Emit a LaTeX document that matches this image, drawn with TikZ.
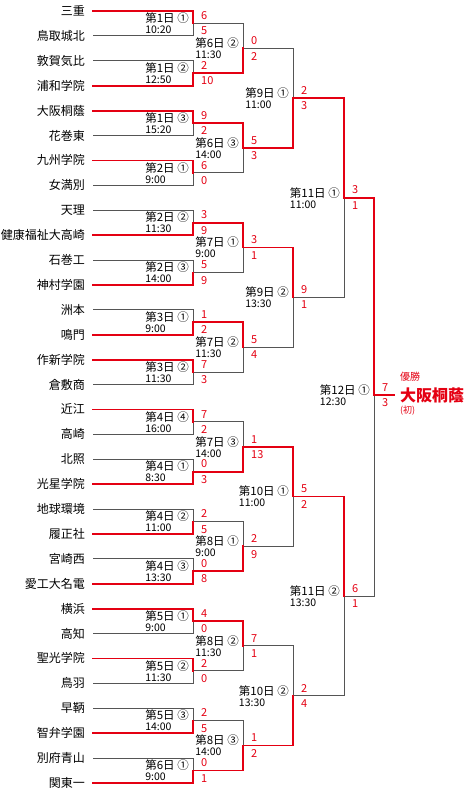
\documentclass[tikz,border=0pt]{standalone}
\usepackage{fontspec}
\setmainfont{Noto Sans CJK JP}
\usetikzlibrary{positioning}
\definecolor{winred}{RGB}{228,0,18}
\definecolor{losegray}{RGB}{85,85,85}

\begin{document}
\begin{tikzpicture}[
    x=1pt, y=-1pt,
    team/.style={anchor=east, inner sep=0pt, font=\fontsize{12}{12}\selectfont},
    match/.style={anchor=east, align=left, inner sep=0pt, font=\fontsize{11.5}{11}\selectfont},
    score/.style={inner sep=0pt, text=winred, font=\fontsize{11}{11}\selectfont},
    win/.style={draw=winred, line width=1.8pt, line cap=rect},
    lose/.style={draw=losegray, line width=1pt}
]
\useasboundingbox (0,0) rectangle (474,798);

% Teams
\foreach \name [count=\i from 0] in {三重,鳥取城北,敦賀気比,浦和学院,大阪桐蔭,花巻東,九州学院,女満別,
    天理,健康福祉大高崎,石巻工,神村学園,洲本,鳴門,作新学院,倉敷商,
    近江,高崎,北照,光星学院,地球環境,履正社,宮崎西,愛工大名電,
    横浜,高知,聖光学院,鳥羽,早鞆,智弁学園,別府青山,関東一} {
  \node[team] (t\i) at (85, 11+24.9*\i) {\name};
  \coordinate (s\i) at ([xshift=8pt]t\i.east);
}

% Game points
\foreach \j in {0,...,15} \coordinate (r1-\j) at (193, 23.45+49.8*\j);
\foreach \j in {0,...,7} \coordinate (r2-\j) at (243, 48.35+99.6*\j);
\foreach \j in {0,...,3} \coordinate (r3-\j) at (293, 98.15+199.2*\j);
\foreach \j in {0,1} \coordinate (r4-\j) at (344, 197.75+398.4*\j);
\coordinate (r5-0) at (374, 395);
\coordinate (end) at (394, 395);

% Losers
\foreach \a/\b in {s1/r1-0, s2/r1-1, s5/r1-2, s7/r1-3, s8/r1-4, s10/r1-5, s12/r1-6, s15/r1-7,
    s17/r1-8, s18/r1-9, s20/r1-10, s22/r1-11, s25/r1-12, s27/r1-13, s28/r1-14, s30/r1-15,
    r1-0/r2-0, r1-3/r2-1, r1-5/r2-2, r1-7/r2-3, r1-8/r2-4, r1-10/r2-5, r1-13/r2-6, r1-14/r2-7,
    r2-0/r3-0, r2-3/r3-1, r2-5/r3-2, r2-6/r3-3,
    r3-1/r4-0, r3-3/r4-1, r4-1/r5-0}
  \draw[lose] (\a) -| (\b);

% Winners
\foreach \a/\b in {s0/r1-0, s3/r1-1, s4/r1-2, s6/r1-3, s9/r1-4, s11/r1-5, s13/r1-6, s14/r1-7,
    s16/r1-8, s19/r1-9, s21/r1-10, s23/r1-11, s24/r1-12, s26/r1-13, s29/r1-14, s31/r1-15,
    r1-1/r2-0, r1-2/r2-1, r1-4/r2-2, r1-6/r2-3, r1-9/r2-4, r1-11/r2-5, r1-12/r2-6, r1-15/r2-7,
    r2-1/r3-0, r2-2/r3-1, r2-4/r3-2, r2-7/r3-3,
    r3-0/r4-0, r3-2/r4-1, r4-0/r5-0}
  \draw[win] (\a) -| (\b);
\draw[win] (r5-0) -- (end);

% Day, time and scores
\foreach \g/\day/\time/\a/\b in {
    r1-0/第1日 ①/10:20/6/5, r1-1/第1日 ②/12:50/2/10, r1-2/第1日 ③/15:20/9/2, r1-3/第2日 ①/9:00/6/0,
    r1-4/第2日 ②/11:30/3/9, r1-5/第2日 ③/14:00/5/9, r1-6/第3日 ①/9:00/1/2, r1-7/第3日 ②/11:30/7/3,
    r1-8/第4日 ④/16:00/7/2, r1-9/第4日 ①/8:30/0/3, r1-10/第4日 ②/11:00/2/5, r1-11/第4日 ③/13:30/0/8,
    r1-12/第5日 ①/9:00/4/0, r1-13/第5日 ②/11:30/2/0, r1-14/第5日 ③/14:00/2/5, r1-15/第6日 ①/9:00/0/1,
    r2-0/第6日 ②/11:30/0/2, r2-1/第6日 ③/14:00/5/3, r2-2/第7日 ①/9:00/3/1, r2-3/第7日 ②/11:30/5/4,
    r2-4/第7日 ③/14:00/1/13, r2-5/第8日 ①/9:00/2/9, r2-6/第8日 ②/11:30/7/1, r2-7/第8日 ③/14:00/1/2,
    r3-0/第9日 ①/11:00/2/3, r3-1/第9日 ②/13:30/9/1, r3-2/第10日 ①/11:00/5/2, r3-3/第10日 ②/13:30/2/4,
    r4-0/第11日 ①/11:00/3/1, r4-1/第11日 ②/13:30/6/1,
    r5-0/第12日 ①/12:30/7/3} {
  \node[match] (m-\g) at ([xshift=-4pt]\g) {\day\\{\fontsize{10.5}{11}\selectfont\time}};
  \node[score, anchor=south west] (a-\g) at ([xshift=8pt,yshift=3.5pt]\g) {\a};
  \node[score, anchor=north west] (b-\g) at ([xshift=8pt,yshift=-3.5pt]\g) {\b};
}

% Champion
\node[anchor=west, inner sep=0pt, text=winred, font=\fontsize{16}{16}\selectfont\bfseries] (champ) at ([xshift=6pt]end) {大阪桐蔭};
\node[anchor=south west, inner sep=0pt, text=winred, font=\fontsize{10}{10}\selectfont] (yusho) at ([yshift=6pt]champ.north west) {優勝};
\node[anchor=north west, inner sep=0pt, text=winred, font=\fontsize{9}{9}\selectfont] (hatsu) at ([yshift=-3pt]champ.south west) {(初)};

\end{tikzpicture}
\end{document}
